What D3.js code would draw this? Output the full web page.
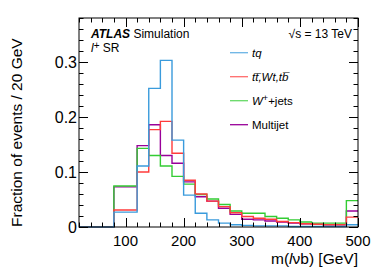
<!DOCTYPE html>
<html>
<head>
<meta charset="utf-8">
<script src="https://cdn.jsdelivr.net/npm/d3@7"></script>
<style>
  body { margin: 0; background: #fff; }
  text { font-family: "Liberation Sans", Arial, sans-serif; }
</style>
</head>
<body>
<div id="chart-area"></div>
<script>
const margin = {left: 79, right: 20, top: 18, bottom: 44};
const width = 378 - margin.left - margin.right;
const height = 271 - margin.top - margin.bottom;

// bin edges 20..500 GeV, 20 GeV wide
const binEdges = d3.range(20, 501, 20);

const tqValues = [0, 0, 0, 0.027, 0.027, 0.111, 0.252, 0.303, 0.158, 0.058, 0.025, 0.013, 0.007, 0.004,
  0.003, 0.002, 0.002, 0.002, 0.001, 0.001, 0.001, 0.001, 0.001, 0.004];
const ttValues = [0, 0, 0, 0.031, 0.031, 0.100, 0.177, 0.192, 0.134, 0.085, 0.060, 0.047, 0.037, 0.026,
  0.019, 0.016, 0.014, 0.010, 0.008, 0.006, 0.005, 0.004, 0.004, 0.018];
const wjetsValues = [0, 0, 0, 0.0745, 0.0745, 0.143, 0.130, 0.111, 0.092, 0.078, 0.059, 0.051, 0.041, 0.029,
  0.025, 0.025, 0.019, 0.016, 0.013, 0.009, 0.007, 0.007, 0.007, 0.048];
const multijetValues = [0, 0, 0, 0.073, 0.073, 0.148, 0.186, 0.130, 0.116, 0.082, 0.055, 0.047, 0.034, 0.023,
  0.014, 0.013, 0.011, 0.009, 0.007, 0.006, 0.005, 0.004, 0.004, 0.029];

const series = [
  {name: 'tq', values: tqValues, color: '#3a9bdc'},
  {name: 'tt', values: ttValues, color: '#ff3b3b'},
  {name: 'wjets', values: wjetsValues, color: '#33cc33'},
  {name: 'multijet', values: multijetValues, color: '#990099'}
];

const yTicks = [0, 0.1, 0.2, 0.3];
const xTicks = [100, 200, 300, 400, 500];

const svg = d3.select('#chart-area').append('svg')
  .attr('width', width + margin.left + margin.right)
  .attr('height', height + margin.top + margin.bottom);

const canvas = svg.append('g')
  .attr('transform', `translate(${margin.left}, ${margin.top})`);

const x = d3.scaleLinear()
  .domain([20, 500])
  .range([0, width]);

const y = d3.scaleLinear()
  .domain([0, 0.38])
  .range([height, 0]);

const line = d3.line()
  .x(d => x(d[0]))
  .y(d => y(d[1]));

// histograms, drawn back to front
[...series].reverse().forEach(s => {
  const pts = [];
  s.values.forEach((v, i) => {
    pts.push([binEdges[i], v]);
    pts.push([binEdges[i + 1], v]);
  });
  canvas.append('path')
    .attr('d', line(pts))
    .attr('fill', 'none')
    .attr('stroke', s.color)
    .attr('stroke-width', 1.4);
});

// frame
canvas.append('rect')
  .attr('width', width)
  .attr('height', height)
  .attr('fill', 'none')
  .attr('stroke', '#000')
  .attr('stroke-width', 1);

// inward ticks on all four sides
const ticks = canvas.append('g').attr('stroke', '#000').attr('stroke-width', 1);
d3.range(0, 0.381, 0.02).forEach(v => {
  const major = yTicks.some(t => Math.abs(t - v) < 1e-6);
  const len = major ? 9 : 4.5;
  const yy = Math.round(y(v)) + 0.5;
  ticks.append('line').attr('x1', 0).attr('x2', len).attr('y1', yy).attr('y2', yy);
  ticks.append('line').attr('x1', width).attr('x2', width - len).attr('y1', yy).attr('y2', yy);
});
d3.range(20, 501, 20).forEach(v => {
  const major = v % 100 === 0;
  const len = major ? 9 : 4.5;
  const xx = Math.round(x(v)) + 0.5;
  ticks.append('line').attr('x1', xx).attr('x2', xx).attr('y1', height).attr('y2', height - len);
  ticks.append('line').attr('x1', xx).attr('x2', xx).attr('y1', 0).attr('y2', len);
});

// tick labels
canvas.selectAll('.ylab').data(yTicks).enter().append('text')
  .attr('class', 'ylab')
  .attr('x', -2)
  .attr('y', d => y(d) + 6)
  .attr('text-anchor', 'end')
  .attr('font-size', '16px')
  .text(d => d === 0 ? '0' : d.toFixed(1));

canvas.selectAll('.xlab').data(xTicks).enter().append('text')
  .attr('class', 'xlab')
  .attr('x', d => x(d))
  .attr('y', height + 19)
  .attr('text-anchor', 'middle')
  .attr('font-size', '15px')
  .text(d => d);

// axis titles
svg.append('text')
  .attr('transform', `translate(22, ${margin.top + height}) rotate(-90)`)
  .attr('text-anchor', 'start')
  .attr('font-size', '15.5px')
  .text('Fraction of events / 20 GeV');

const xTitle = svg.append('text')
  .attr('x', margin.left + width)
  .attr('y', 264)
  .attr('text-anchor', 'end')
  .attr('font-size', '15.5px');
xTitle.append('tspan').text('m(');
xTitle.append('tspan').attr('font-style', 'italic').text('l');
xTitle.append('tspan').text('νb) [GeV]');

// ATLAS labels
const atlas = canvas.append('text')
  .attr('x', 12)
  .attr('y', 20)
  .attr('font-size', '12px');
atlas.append('tspan').attr('font-weight', 'bold').attr('font-style', 'italic').text('ATLAS');
atlas.append('tspan').text(' Simulation');

const region = canvas.append('text')
  .attr('x', 12)
  .attr('y', 33.5)
  .attr('font-size', '12px');
region.append('tspan').attr('font-style', 'italic').text('l');
region.append('tspan').attr('font-size', '10px').attr('dy', -3).text('+');
region.append('tspan').attr('dy', 3).text(' SR');

canvas.append('text')
  .attr('x', width - 6)
  .attr('y', 20)
  .attr('text-anchor', 'end')
  .attr('font-size', '12px')
  .text('√s = 13 TeV');

// legend
const legendLabels = [
  [{t: 'tq', i: true}],
  [{t: 't', i: true}, {t: 't\u0305', i: true}, {t: ',Wt,', i: true}, {t: 't', i: true}, {t: 'b\u0305', i: true}],
  [{t: 'W', i: true}, {t: '+', sup: true}, {t: '+jets', after: true}],
  [{t: 'Multijet'}]
];

const legend = canvas.append('g')
  .attr('transform', `translate(${230 - margin.left}, ${52.7 - margin.top})`);

series.forEach((s, i) => {
  const row = legend.append('g')
    .attr('transform', `translate(0, ${i * 24})`);
  row.append('line')
    .attr('x1', 0).attr('x2', 18)
    .attr('y1', 0).attr('y2', 0)
    .attr('stroke', s.color)
    .attr('stroke-opacity', i === 3 ? 1 : 0.75)
    .attr('stroke-width', 1.3);
  const txt = row.append('text')
    .attr('x', 22)
    .attr('y', 4.5)
    .attr('font-size', '11.5px');
  legendLabels[i].forEach(p => {
    const ts = txt.append('tspan').text(p.t);
    if (p.i) ts.attr('font-style', 'italic');
    if (p.sup) ts.attr('font-size', '9px').attr('dy', -4);
    if (p.after) ts.attr('dy', 4);
  });
});
</script>
</body>
</html>
